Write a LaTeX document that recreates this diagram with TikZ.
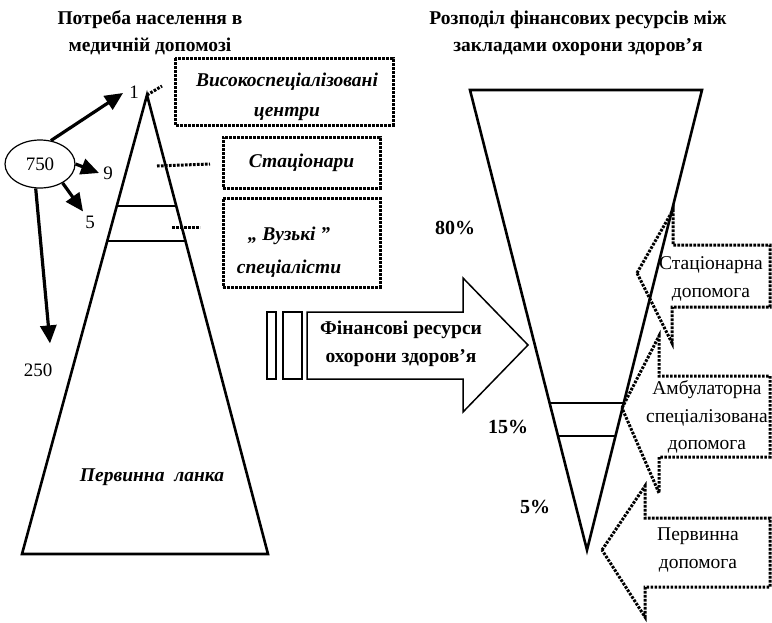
\documentclass[tikz,border=0pt]{standalone}
\usepackage{fontspec}
\setmainfont{Liberation Serif}
\usetikzlibrary{arrows.meta,shapes.geometric}
\begin{document}
\begin{tikzpicture}[x=1pt,y=-1pt,
  lbl/.style={font=\fontsize{19}{22}\selectfont, inner sep=0pt},
  pct/.style={font=\bfseries\fontsize{20}{22}\selectfont, inner sep=0pt},
  ttl/.style={font=\bfseries\fontsize{19.5}{27}\selectfont, align=center, inner sep=0pt},
  boxtxt/.style={font=\bfseries\itshape\fontsize{19.5}{30}\selectfont, align=center, inner sep=0pt},
  rtxt/.style={font=\fontsize{19.5}{27.5}\selectfont, align=center, inner sep=0pt},
  dotline/.style={line width=3pt, dash pattern=on 2.6pt off 1.4pt},
  solidline/.style={line width=2.6pt, line join=miter},
  thinline/.style={line width=1.5pt},
  bigarrow/.style={line width=3.2pt, -{Triangle[length=18pt,width=16pt]}}
]
\useasboundingbox (0,0) rectangle (772,622);

% titles
\node[ttl] (t1) at (150,33) {Потреба населення в\\медичній допомозі};
\node[ttl] (t2) at (578,33) {Розподіл фінансових ресурсів між\\закладами охорони здоров’я};

% left pyramid
\coordinate (apex) at (147,95);
\coordinate (lbl) at (22,554);
\coordinate (lbr) at (268,554);
\draw[solidline] (apex) -- (lbl) -- (lbr) -- cycle;
\draw[solidline] (116,206) -- (176,206);
\draw[solidline] (107,241) -- (185,241);
\node[boxtxt] (prim) at (152,477) {Первинна\ \ ланка};

% numbers
\node[lbl] (n1) at (134,92) {1};
\node[lbl] (n9) at (108,173) {9};
\node[lbl] (n5) at (90,222) {5};
\node[lbl] (n250) at (38,370) {250};
\node[draw, ellipse, line width=1.2pt, minimum width=70pt, minimum height=48pt, inner sep=0pt, font=\fontsize{19}{22}\selectfont] (e) at (40,164) {750};

\draw[bigarrow] (e.65) -- ([xshift=-6pt,yshift=-1pt]n1.west);
\draw[bigarrow] (e.east) -- ([xshift=-4pt]n9.west);
\draw[bigarrow] (e.-40) -- ([xshift=-2pt,yshift=4pt]n5.north west);
\draw[bigarrow] (e.-100) -- ([xshift=12pt,yshift=20pt]n250.north);

% dotted boxes on the left
\draw[dotline] (175,58) rectangle (393,125);
\node[boxtxt] (b1) at (287,97) {Високоспеціалізовані\\центри};
\node[draw, dotline, minimum width=157pt, minimum height=51pt, inner sep=0pt] (b2) at (301.5,162.5) {};
\node[boxtxt] (b2t) at (b2) {Стаціонари};
\node[draw, dotline, minimum width=157pt, minimum height=89pt, inner sep=0pt] (b3) at (301.5,242.5) {};
\node[boxtxt, font=\bfseries\itshape\fontsize{19.5}{33}\selectfont] (b3t) at (289,252) {„ Вузькі ”\\спеціалісти};

\draw[dotline] (apex) -- ++(15,-9);
\draw[dotline] (157,166) -- (210,164);
\draw[dotline] (172,227) -- (200,227);

% big arrow
\draw[thinline] (267,312) rectangle (276,379);
\draw[thinline] (283,312) rectangle (302,379);
\draw[thinline] (307,312) -- (463,312) -- (463,278) -- (528,345) -- (463,412) -- (463,379) -- (307,379) -- cycle;
\node[ttl, font=\bfseries\fontsize{19.5}{28}\selectfont] (fin) at (401,344) {Фінансові ресурси\\охорони здоров’я};

% right funnel
\coordinate (ftl) at (470,90);
\coordinate (ftr) at (702,90);
\coordinate (ftip) at (587,550);
\draw[solidline] (ftl) -- (ftr) -- (ftip) -- cycle;
\draw[solidline] (549,403) -- (624,403);
\draw[solidline] (558,436) -- (615,436);
\node[pct] (p80) at (455,228) {80\%};
\node[pct] (p15) at (508,427) {15\%};
\node[pct] (p5) at (535,507) {5\%};

% right dotted arrows
\draw[dotline] (637,273) -- (673,210) -- (673,245) -- (770,245) -- (770,307) -- (672,307) -- (672,343) -- cycle;
\draw[dotline] (622,408) -- (659,336) -- (659,376) -- (770,376) -- (770,457) -- (659,457) -- (659,493) -- cycle;
\draw[dotline] (602,550) -- (645,486) -- (645,518) -- (770,518) -- (770,587) -- (645,587) -- (645,617) -- cycle;

\node[rtxt] (r1) at (711,279) {Стаціонарна\\допомога};
\node[rtxt] (r2) at (707,417) {Амбулаторна\\спеціалізована\\допомога};
\node[rtxt] (r3) at (698,550) {Первинна\\допомога};
\end{tikzpicture}
\end{document}
